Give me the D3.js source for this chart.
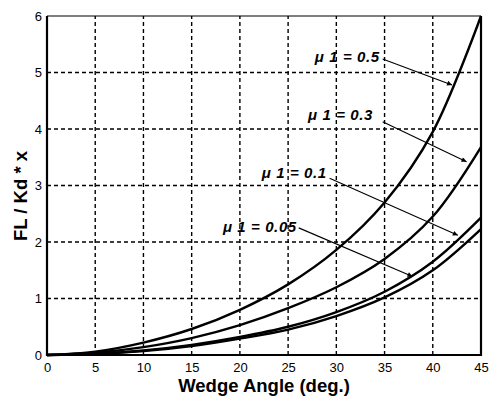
<!DOCTYPE html>
<html>
<head>
<meta charset="utf-8">
<script src="https://cdn.jsdelivr.net/npm/d3@7"></script>
<style>
  body { margin: 0; background: #fff; }
  text { font-family: "Liberation Sans", Arial, sans-serif; }
</style>
</head>
<body>
<div id="chart"></div>
<script>
// angles en degres
const angles = [0, 5, 10, 15, 20, 25, 30, 35, 40, 45];
// FL / Kd * x pour chaque mu 1
const mu05 = [0, 0.06, 0.22, 0.46, 0.8, 1.25, 1.86, 2.7, 3.95, 6.0];
const mu03 = [0, 0.04, 0.14, 0.3, 0.53, 0.83, 1.2, 1.7, 2.45, 3.68];
const mu01 = [0, 0.02, 0.08, 0.18, 0.32, 0.5, 0.76, 1.12, 1.65, 2.43];
const mu005 = [0, 0.02, 0.07, 0.16, 0.29, 0.45, 0.69, 1.02, 1.5, 2.23];
const labels = ["\u03bc 1 = 0.5", "\u03bc 1 = 0.3", "\u03bc 1 = 0.1", "\u03bc 1 = 0.05"];
const xTicks = [0, 5, 10, 15, 20, 25, 30, 35, 40, 45];
const yTicks = [0, 1, 2, 3, 4, 5, 6];

// position des etiquettes (fin du texte) et pointe des fleches, en unites du graphe
const labelAt = [[34.5, 5.19], [33.8, 4.16], [29.0, 3.13], [25.9, 2.17]];
const arrowFrom = [[34.8, 5.24], [34.8, 4.13], [29.3, 3.13], [26.1, 2.25]];
const arrowTo = [[42.0, 4.78], [43.5, 3.42], [42.6, 2.12], [37.9, 1.39]];

const width = 493, height = 397;
const margin = { top: 16, right: 12, bottom: 42, left: 47 };

const svg = d3.select("#chart").append("svg")
  .attr("width", width)
  .attr("height", height);

const x = d3.scaleLinear().domain([0, 45]).range([margin.left, width - margin.right]);
const y = d3.scaleLinear().domain([0, 6]).range([height - margin.bottom, margin.top]);

svg.append("defs").append("marker")
  .attr("id", "head")
  .attr("markerUnits", "userSpaceOnUse")
  .attr("viewBox", "0 0 10 10")
  .attr("refX", 10).attr("refY", 5)
  .attr("markerWidth", 11).attr("markerHeight", 5)
  .attr("orient", "auto")
  .append("path")
  .attr("d", "M0,0L10,5L0,10z")
  .attr("fill", "#000");

// grille pointillee
svg.append("g").selectAll("line")
  .data(xTicks.slice(1, -1))
  .join("line")
  .attr("x1", d => x(d)).attr("x2", d => x(d))
  .attr("y1", y(0)).attr("y2", y(6))
  .attr("stroke", "#000").attr("stroke-width", 1.4)
  .attr("stroke-dasharray", "4,3");

svg.append("g").selectAll("line")
  .data(yTicks.slice(1, -1))
  .join("line")
  .attr("x1", x(0)).attr("x2", x(45))
  .attr("y1", d => y(d)).attr("y2", d => y(d))
  .attr("stroke", "#000").attr("stroke-width", 1.4)
  .attr("stroke-dasharray", "4,3");

// courbes
const series = [mu05, mu03, mu01, mu005];
const line = d3.line()
  .x((d, i) => x(angles[i]))
  .y(d => y(d))
  .curve(d3.curveCatmullRom.alpha(0.5));

svg.append("g").selectAll("path")
  .data(series)
  .join("path")
  .attr("d", d => line(d))
  .attr("fill", "none")
  .attr("stroke", "#000")
  .attr("stroke-width", 2.4);

// cadre
svg.append("line")
  .attr("x1", x(0)).attr("x2", x(45)).attr("y1", y(6)).attr("y2", y(6))
  .attr("stroke", "#000").attr("stroke-width", 1.2);
svg.append("path")
  .attr("d", "M" + x(0) + "," + y(6) + "V" + y(0) + "H" + x(45) + "V" + y(6))
  .attr("fill", "none").attr("stroke", "#000").attr("stroke-width", 2.2);

// axes
const xAxis = svg.append("g")
  .attr("transform", "translate(0," + y(0) + ")")
  .call(d3.axisBottom(x).tickValues(xTicks).tickFormat(d3.format("d")).tickSize(0).tickPadding(8));
xAxis.select(".domain").remove();
xAxis.selectAll("text").attr("font-size", 13).attr("fill", "#000")
  .style("font-family", "'Liberation Sans', Arial, sans-serif");

const yAxis = svg.append("g")
  .attr("transform", "translate(" + x(0) + ",0)")
  .call(d3.axisLeft(y).tickValues(yTicks).tickFormat(d3.format("d")).tickSize(0).tickPadding(5));
yAxis.select(".domain").remove();
yAxis.selectAll("text").attr("font-size", 13).attr("fill", "#000")
  .style("font-family", "'Liberation Sans', Arial, sans-serif");

// titres des axes
svg.append("text")
  .attr("x", 264)
  .attr("y", 392)
  .attr("text-anchor", "middle")
  .attr("font-size", 18.5).attr("font-weight", "bold")
  .text("Wedge Angle (deg.)");

svg.append("text")
  .attr("transform", "translate(27,196) rotate(-90)")
  .attr("text-anchor", "middle")
  .attr("font-size", 18.5).attr("font-weight", "bold")
  .text("FL / Kd * x");

// annotations
svg.append("g").selectAll("text")
  .data(labels)
  .join("text")
  .attr("x", (d, i) => x(labelAt[i][0]))
  .attr("y", (d, i) => y(labelAt[i][1]))
  .attr("text-anchor", "end")
  .attr("font-size", 15).attr("font-weight", "bold").attr("font-style", "italic")
  .attr("letter-spacing", 0.6)
  .text(d => d);

svg.append("g").selectAll("line")
  .data(labels)
  .join("line")
  .attr("x1", (d, i) => x(arrowFrom[i][0]))
  .attr("y1", (d, i) => y(arrowFrom[i][1]))
  .attr("x2", (d, i) => x(arrowTo[i][0]))
  .attr("y2", (d, i) => y(arrowTo[i][1]))
  .attr("stroke", "#000").attr("stroke-width", 1.1)
  .attr("marker-end", "url(#head)");
</script>
</body>
</html>
